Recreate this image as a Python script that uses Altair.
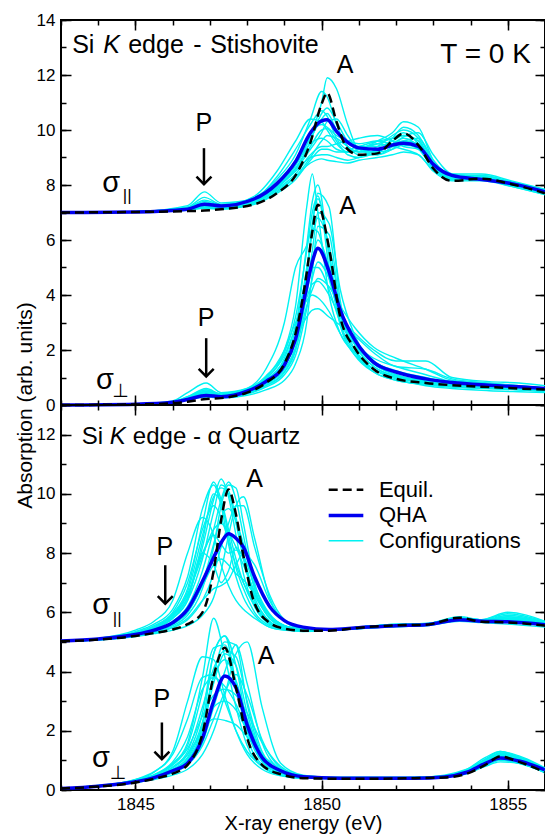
import altair as alt
import pandas as pd

FONT = "Liberation Sans"
CYAN = "#00F2F2"
BLUE = "#0000F0"
XDOM = [1843, 1856]
X_MAJOR = [1845, 1850, 1855]
X_MINOR = list(range(1843, 1857))

# ---------------- Stishovite, sigma parallel ----------------
st_par_E = [1843, 1845, 1846.4, 1846.85, 1847.3, 1848.2, 1848.8, 1849.3, 1849.7, 1850, 1850.15,
            1850.4, 1850.7, 1851, 1851.5, 1851.9, 1852.2, 1852.6, 1853, 1853.5, 1854.3, 1855.1, 1856]
st_par_equil = [7.0, 7.02, 7.05, 7.07, 7.12, 7.3, 7.7, 8.35, 9.55, 10.95, 11.35, 10.3, 9.3, 9.1,
                9.15, 9.6, 9.88, 9.45, 8.6, 8.15, 8.23, 8.03, 7.7]
st_par_qha = [7.0, 7.02, 7.12, 7.3, 7.24, 7.5, 8.05, 8.85, 9.9, 10.33, 10.37, 9.95, 9.55, 9.35,
              9.3, 9.45, 9.52, 9.4, 8.75, 8.35, 8.2, 8.05, 7.75]
st_par_cfg = [
    [7.0, 7.03, 7.25, 7.75, 7.35, 7.5, 8.0, 8.7, 9.8, 11.0, 11.9, 11.5, 10.2, 9.3, 9.2, 9.7, 10.1, 9.8, 8.8, 8.3, 8.35, 8.1, 7.8],
    [7.0, 7.03, 7.2, 7.55, 7.3, 7.55, 8.2, 9.1, 10.4, 11.4, 11.2, 10.2, 9.4, 9.2, 9.4, 9.8, 10.0, 9.7, 8.7, 8.25, 8.3, 8.05, 7.75],
    [7.0, 7.02, 7.15, 7.35, 7.25, 7.6, 8.5, 9.6, 10.4, 10.3, 10.0, 9.5, 9.2, 9.3, 9.6, 9.9, 10.3, 10.1, 8.9, 8.4, 8.4, 8.15, 7.85],
    [7.0, 7.02, 7.12, 7.3, 7.2, 7.45, 8.1, 8.9, 9.9, 10.2, 10.1, 9.8, 9.6, 9.5, 9.6, 9.5, 9.6, 9.5, 8.8, 8.35, 8.25, 8.05, 7.75],
    [7.0, 7.02, 7.1, 7.2, 7.15, 7.4, 7.9, 8.5, 9.0, 9.1, 9.1, 9.0, 8.9, 9.0, 9.3, 9.4, 9.5, 9.3, 8.6, 8.2, 8.2, 8.0, 7.7],
    [7.0, 7.02, 7.08, 7.15, 7.12, 7.35, 7.8, 8.3, 8.8, 8.95, 8.9, 8.85, 8.8, 8.9, 9.0, 9.1, 9.2, 9.1, 8.5, 8.15, 8.15, 7.95, 7.65],
    [7.0, 7.03, 7.15, 7.4, 7.25, 7.45, 7.9, 8.6, 9.6, 10.6, 10.8, 10.3, 9.6, 9.4, 9.4, 9.6, 9.8, 9.6, 8.7, 8.3, 8.3, 8.05, 7.75],
    [7.0, 7.02, 7.1, 7.25, 7.18, 7.4, 8.0, 8.75, 9.5, 9.7, 9.6, 9.3, 9.2, 9.3, 9.5, 9.7, 9.8, 9.6, 8.7, 8.25, 8.25, 8.0, 7.7],
    [7.0, 7.02, 7.1, 7.2, 7.15, 7.35, 7.85, 8.4, 9.1, 9.4, 9.4, 9.5, 9.6, 9.7, 9.8, 9.6, 9.4, 9.3, 8.6, 8.3, 8.3, 8.1, 7.8],
    [7.0, 7.02, 7.12, 7.3, 7.2, 7.4, 7.95, 8.6, 9.4, 10.0, 10.05, 9.6, 9.1, 9.0, 9.2, 9.5, 9.7, 9.4, 8.6, 8.2, 8.2, 7.95, 7.65],
    [7.0, 7.02, 7.1, 7.22, 7.16, 7.38, 7.9, 8.55, 9.3, 9.9, 10.3, 10.4, 9.8, 9.3, 9.1, 9.3, 9.6, 9.7, 8.9, 8.3, 8.25, 8.05, 7.75],
    [7.0, 7.03, 7.18, 7.45, 7.28, 7.5, 8.3, 9.3, 10.2, 10.7, 10.5, 9.7, 9.3, 9.4, 9.6, 9.7, 9.9, 9.5, 8.75, 8.3, 8.35, 8.1, 7.8],
    [7.0, 7.02, 7.1, 7.2, 7.15, 7.32, 7.75, 8.3, 9.0, 9.6, 9.8, 9.7, 9.4, 9.2, 9.2, 9.3, 9.45, 9.35, 8.65, 8.2, 8.2, 7.98, 7.68],
    [7.0, 7.02, 7.12, 7.28, 7.2, 7.45, 8.05, 8.8, 9.7, 10.4, 10.6, 10.0, 9.4, 9.1, 9.1, 9.4, 9.75, 9.9, 9.1, 8.4, 8.3, 8.1, 7.8],
    [7.0, 7.02, 7.1, 7.18, 7.14, 7.3, 7.7, 8.2, 8.9, 9.3, 9.3, 9.2, 9.2, 9.3, 9.5, 9.4, 9.3, 9.1, 8.55, 8.2, 8.2, 8.0, 7.7],
]

# ---------------- Stishovite, sigma perpendicular ----------------
st_per_E = [1843, 1845, 1846, 1846.4, 1846.9, 1847.3, 1848, 1848.5, 1849, 1849.3, 1849.6, 1849.75,
            1849.9, 1850.2, 1850.5, 1850.9, 1851.4, 1852, 1852.8, 1853.5, 1854.5, 1855.3, 1856]
st_per_equil = [0.0, 0.02, 0.06, 0.12, 0.22, 0.25, 0.45, 0.8, 1.5, 2.6, 4.8, 6.3, 7.28, 5.7, 3.2,
                2.05, 1.3, 0.95, 0.8, 0.72, 0.65, 0.6, 0.56]
st_per_qha = [0.0, 0.03, 0.1, 0.2, 0.35, 0.3, 0.5, 0.85, 1.45, 2.4, 4.3, 5.2, 5.7, 4.85, 3.45,
              2.35, 1.55, 1.2, 0.95, 0.82, 0.72, 0.66, 0.6]
st_per_cfg = [
    [0, 0.03, 0.15, 0.45, 0.8, 0.45, 0.6, 1.05, 2.0, 3.6, 7.2, 8.4, 7.0, 4.0, 2.6, 1.9, 1.3, 1.0, 0.85, 0.75, 0.68, 0.62, 0.56],
    [0, 0.03, 0.12, 0.3, 0.6, 0.4, 0.5, 0.8, 1.4, 2.4, 4.8, 6.5, 7.7, 7.2, 3.8, 2.2, 1.4, 1.05, 0.9, 0.78, 0.7, 0.63, 0.56],
    [0, 0.03, 0.12, 0.3, 0.55, 0.4, 0.6, 1.3, 3.0, 5.0, 5.8, 6.4, 6.3, 4.6, 3.2, 2.3, 1.6, 1.2, 0.95, 0.8, 0.7, 0.64, 0.58],
    [0, 0.03, 0.1, 0.25, 0.4, 0.35, 0.5, 0.9, 1.6, 2.4, 3.2, 3.45, 3.5, 3.2, 2.9, 2.5, 1.9, 1.4, 1.3, 0.95, 0.8, 0.7, 0.62],
    [0, 0.02, 0.1, 0.2, 0.35, 0.3, 0.45, 0.75, 1.3, 2.1, 4.0, 5.2, 6.0, 5.0, 3.3, 2.2, 1.5, 1.1, 0.85, 0.75, 0.66, 0.6, 0.54],
    [0, 0.02, 0.1, 0.25, 0.45, 0.35, 0.55, 0.95, 1.8, 2.8, 3.9, 4.4, 4.5, 4.0, 3.2, 2.6, 2.0, 1.6, 1.6, 1.0, 0.85, 0.8, 0.7],
    [0, 0.02, 0.1, 0.22, 0.4, 0.3, 0.45, 0.7, 1.2, 2.0, 4.5, 6.6, 7.5, 5.6, 3.0, 1.9, 1.2, 0.9, 0.75, 0.65, 0.6, 0.55, 0.5],
    [0, 0.02, 0.1, 0.2, 0.3, 0.28, 0.4, 0.65, 1.1, 1.8, 3.5, 4.6, 5.2, 4.6, 3.4, 2.4, 1.6, 1.25, 1.0, 0.8, 0.7, 0.62, 0.56],
    [0, 0.02, 0.08, 0.18, 0.3, 0.25, 0.35, 0.55, 0.9, 1.5, 3.0, 4.8, 6.5, 6.2, 3.5, 2.0, 1.3, 0.95, 0.7, 0.6, 0.52, 0.48, 0.45],
    [0, 0.02, 0.1, 0.25, 0.5, 0.35, 0.55, 1.0, 2.0, 3.0, 3.8, 4.0, 3.9, 3.4, 2.6, 1.8, 1.3, 1.0, 0.8, 0.7, 0.62, 0.56, 0.5],
    [0, 0.02, 0.1, 0.25, 0.55, 0.35, 0.5, 0.85, 1.6, 2.8, 5.8, 7.4, 8.0, 5.4, 3.0, 2.0, 1.3, 1.0, 0.8, 0.7, 0.62, 0.57, 0.52],
    [0, 0.02, 0.1, 0.22, 0.4, 0.32, 0.5, 0.85, 1.5, 2.5, 5.0, 6.2, 6.8, 5.8, 3.6, 2.2, 1.4, 1.05, 0.85, 0.72, 0.64, 0.58, 0.52],
    [0, 0.02, 0.1, 0.22, 0.38, 0.3, 0.48, 0.8, 1.4, 2.3, 4.2, 5.6, 7.0, 6.6, 4.2, 2.5, 1.5, 1.1, 0.85, 0.72, 0.64, 0.58, 0.52],
    [0, 0.02, 0.1, 0.24, 0.45, 0.33, 0.52, 0.9, 1.7, 2.9, 4.6, 5.0, 5.0, 4.2, 3.0, 2.2, 1.7, 1.4, 1.1, 0.85, 0.72, 0.65, 0.58],
    [0, 0.02, 0.1, 0.25, 0.5, 0.36, 0.55, 0.95, 1.9, 3.2, 5.6, 7.0, 7.6, 5.0, 2.9, 1.8, 1.2, 0.9, 0.75, 0.66, 0.6, 0.55, 0.5],
    [0, 0.02, 0.1, 0.2, 0.32, 0.28, 0.42, 0.7, 1.2, 2.0, 3.6, 4.2, 4.6, 4.3, 3.6, 2.8, 2.1, 1.7, 1.3, 0.9, 0.78, 0.7, 0.62],
]

# ---------------- alpha Quartz, sigma parallel ----------------
qz_par_E = [1843, 1844, 1845, 1845.5, 1846, 1846.4, 1846.8, 1847.1, 1847.3, 1847.5, 1847.7, 1847.9,
            1848.2, 1848.6, 1849, 1849.5, 1850.2, 1851, 1852, 1852.8, 1853.7, 1854.3, 1855, 1856]
qz_par_equil = [5.02, 5.08, 5.2, 5.3, 5.42, 5.6, 6.0, 7.4, 9.1, 10.15, 9.3, 7.9, 6.3, 5.65, 5.45,
                5.38, 5.38, 5.48, 5.56, 5.58, 5.82, 5.68, 5.66, 5.55]
qz_par_qha = [5.03, 5.1, 5.25, 5.4, 5.65, 6.1, 7.05, 7.85, 8.35, 8.65, 8.5, 8.2, 7.2, 6.2, 5.72,
              5.5, 5.42, 5.48, 5.55, 5.58, 5.75, 5.7, 5.68, 5.58]
qz_par_cfg = [
    [5.02, 5.1, 5.3, 5.5, 5.9, 6.5, 8.2, 9.8, 10.5, 9.9, 8.6, 7.3, 6.2, 5.6, 5.45, 5.4, 5.4, 5.5, 5.6, 5.62, 5.8, 5.75, 5.8, 5.6],
    [5.02, 5.12, 5.35, 5.6, 6.1, 7.2, 9.5, 10.3, 9.6, 8.3, 7.2, 6.5, 5.9, 5.5, 5.4, 5.38, 5.42, 5.5, 5.58, 5.6, 5.75, 5.72, 5.7, 5.6],
    [5.02, 5.06, 5.18, 5.28, 5.4, 5.55, 5.9, 6.5, 7.4, 8.6, 9.6, 9.9, 8.5, 6.5, 5.7, 5.45, 5.4, 5.45, 5.55, 5.6, 5.85, 5.75, 6.0, 5.7],
    [5.02, 5.1, 5.25, 5.45, 5.8, 6.5, 8.0, 7.6, 7.0, 7.4, 8.2, 7.8, 6.6, 5.9, 5.55, 5.45, 5.4, 5.45, 5.52, 5.55, 5.7, 5.65, 5.6, 5.5],
    [5.02, 5.12, 5.4, 5.7, 6.4, 8.0, 9.2, 8.6, 7.6, 6.9, 6.4, 6.1, 5.8, 5.5, 5.4, 5.35, 5.4, 5.5, 5.6, 5.62, 5.78, 5.7, 5.75, 5.62],
    [5.02, 5.08, 5.22, 5.35, 5.55, 5.9, 6.8, 8.2, 9.6, 10.3, 10.2, 9.0, 7.0, 5.9, 5.5, 5.4, 5.4, 5.48, 5.56, 5.6, 5.82, 5.7, 5.85, 5.65],
    [5.02, 5.1, 5.3, 5.5, 5.9, 6.6, 7.9, 8.8, 9.0, 8.7, 8.2, 7.6, 6.7, 5.9, 5.55, 5.42, 5.4, 5.5, 5.58, 5.6, 5.78, 5.72, 5.75, 5.6],
    [5.02, 5.1, 5.28, 5.45, 5.8, 6.4, 8.4, 10.0, 9.7, 8.6, 7.5, 6.8, 6.0, 5.55, 5.42, 5.38, 5.4, 5.48, 5.55, 5.58, 5.8, 5.7, 5.7, 5.58],
    [5.02, 5.07, 5.2, 5.32, 5.5, 5.8, 6.4, 6.8, 6.9, 7.1, 7.6, 8.0, 7.6, 6.4, 5.7, 5.45, 5.4, 5.45, 5.52, 5.55, 5.72, 5.68, 5.8, 5.62],
    [5.02, 5.08, 5.22, 5.35, 5.6, 6.0, 7.0, 8.3, 9.2, 9.5, 9.1, 8.3, 6.8, 5.8, 5.5, 5.4, 5.4, 5.48, 5.56, 5.6, 5.8, 5.72, 5.9, 5.66],
    [5.02, 5.1, 5.3, 5.5, 5.95, 6.8, 9.0, 10.4, 9.8, 8.8, 7.8, 7.0, 6.2, 5.6, 5.45, 5.4, 5.4, 5.5, 5.58, 5.6, 5.78, 5.7, 5.72, 5.6],
    [5.02, 5.07, 5.2, 5.3, 5.48, 5.75, 6.4, 7.3, 8.2, 9.0, 9.6, 9.6, 8.2, 6.6, 5.75, 5.45, 5.4, 5.46, 5.55, 5.6, 5.8, 5.75, 5.95, 5.68],
    [5.02, 5.1, 5.3, 5.5, 5.9, 6.7, 8.6, 9.9, 10.2, 10.0, 9.0, 7.8, 6.5, 5.7, 5.45, 5.4, 5.4, 5.5, 5.58, 5.6, 5.8, 5.72, 5.78, 5.62],
    [5.02, 5.08, 5.25, 5.4, 5.7, 6.2, 7.4, 8.8, 9.8, 10.4, 9.8, 8.6, 6.8, 5.8, 5.5, 5.4, 5.4, 5.48, 5.56, 5.6, 5.8, 5.72, 5.85, 5.65],
    [5.02, 5.1, 5.28, 5.45, 5.85, 6.6, 8.0, 8.6, 8.3, 8.0, 8.1, 7.9, 6.9, 5.95, 5.55, 5.42, 5.4, 5.48, 5.55, 5.58, 5.76, 5.7, 5.7, 5.58],
    [5.02, 5.09, 5.27, 5.45, 5.8, 6.4, 7.8, 9.4, 10.3, 10.1, 9.2, 8.0, 6.4, 5.65, 5.45, 5.4, 5.4, 5.5, 5.58, 5.6, 5.8, 5.72, 5.75, 5.6],
    [5.02, 5.07, 5.22, 5.35, 5.6, 6.0, 6.9, 7.6, 7.8, 7.6, 7.3, 7.1, 6.6, 5.9, 5.55, 5.42, 5.4, 5.46, 5.54, 5.58, 5.75, 5.7, 5.8, 5.6],
    [5.02, 5.1, 5.32, 5.55, 6.0, 7.0, 8.8, 9.6, 9.2, 8.4, 7.6, 7.0, 6.3, 5.7, 5.45, 5.4, 5.42, 5.5, 5.58, 5.6, 5.76, 5.7, 5.68, 5.58],
]

# ---------------- alpha Quartz, sigma perpendicular ----------------
qz_per_E = [1843, 1844, 1845, 1845.5, 1846, 1846.4, 1846.8, 1847.1, 1847.4, 1847.7, 1848, 1848.4,
            1848.9, 1849.5, 1850.5, 1851.5, 1852.5, 1853.3, 1853.9, 1854.4, 1854.8, 1855.3, 1856]
qz_per_equil = [0.05, 0.12, 0.25, 0.38, 0.55, 0.85, 1.9, 3.85, 4.8, 3.45, 1.75, 0.85, 0.53, 0.4,
                0.38, 0.38, 0.4, 0.42, 0.55, 0.85, 1.13, 0.95, 0.6]
qz_per_qha = [0.05, 0.13, 0.28, 0.42, 0.65, 0.9, 1.75, 3.0, 3.85, 3.45, 2.2, 1.1, 0.65, 0.45,
              0.4, 0.4, 0.4, 0.44, 0.6, 0.9, 1.08, 0.98, 0.68]
qz_per_cfg = [
    [0.05, 0.14, 0.32, 0.5, 0.9, 1.6, 3.8, 5.8, 4.5, 2.8, 1.5, 0.8, 0.5, 0.4, 0.4, 0.4, 0.42, 0.5, 0.7, 1.0, 1.2, 1.0, 0.62],
    [0.05, 0.13, 0.3, 0.45, 0.75, 1.2, 2.6, 4.6, 5.2, 4.2, 2.2, 1.0, 0.58, 0.42, 0.4, 0.4, 0.4, 0.45, 0.62, 0.95, 1.15, 1.0, 0.65],
    [0.05, 0.12, 0.25, 0.35, 0.5, 0.7, 1.2, 2.0, 3.2, 4.6, 5.0, 2.8, 0.9, 0.5, 0.4, 0.38, 0.38, 0.45, 0.7, 1.1, 1.3, 1.1, 0.7],
    [0.05, 0.15, 0.35, 0.6, 1.3, 3.0, 4.5, 4.4, 3.2, 2.0, 1.2, 0.7, 0.48, 0.4, 0.42, 0.42, 0.42, 0.45, 0.58, 0.85, 1.05, 0.92, 0.6],
    [0.05, 0.13, 0.3, 0.45, 0.75, 1.2, 2.0, 2.4, 2.35, 2.2, 1.8, 1.2, 0.7, 0.45, 0.4, 0.4, 0.4, 0.44, 0.55, 0.8, 0.95, 0.9, 0.58],
    [0.05, 0.13, 0.28, 0.42, 0.7, 1.1, 2.3, 3.8, 4.4, 3.7, 2.4, 1.2, 0.65, 0.45, 0.4, 0.4, 0.4, 0.45, 0.65, 1.0, 1.2, 1.05, 0.68],
    [0.05, 0.13, 0.3, 0.48, 0.85, 1.4, 2.5, 3.2, 3.4, 3.2, 2.6, 1.6, 0.8, 0.48, 0.42, 0.42, 0.42, 0.46, 0.6, 0.9, 1.1, 0.98, 0.64],
    [0.05, 0.12, 0.27, 0.4, 0.65, 1.0, 2.2, 4.6, 5.2, 3.6, 1.8, 0.85, 0.5, 0.4, 0.38, 0.38, 0.4, 0.44, 0.6, 0.95, 1.25, 1.1, 0.72],
    [0.05, 0.12, 0.26, 0.38, 0.6, 0.9, 1.6, 2.8, 4.0, 4.9, 3.6, 1.6, 0.7, 0.45, 0.4, 0.4, 0.4, 0.46, 0.68, 1.05, 1.3, 1.15, 0.75],
    [0.05, 0.12, 0.26, 0.4, 0.62, 0.95, 1.8, 2.8, 3.0, 2.7, 2.0, 1.1, 0.6, 0.42, 0.4, 0.4, 0.4, 0.44, 0.56, 0.82, 1.0, 0.92, 0.6],
    [0.05, 0.13, 0.28, 0.42, 0.68, 1.05, 2.2, 3.9, 5.0, 4.9, 2.9, 1.2, 0.6, 0.42, 0.4, 0.4, 0.4, 0.45, 0.64, 1.0, 1.22, 1.08, 0.7],
    [0.05, 0.15, 0.36, 0.62, 1.2, 2.4, 3.8, 3.9, 3.0, 2.0, 1.3, 0.8, 0.5, 0.4, 0.42, 0.42, 0.42, 0.46, 0.58, 0.85, 1.02, 0.9, 0.6],
    [0.05, 0.14, 0.32, 0.5, 0.85, 1.5, 3.3, 4.8, 4.9, 3.6, 2.0, 0.95, 0.55, 0.42, 0.4, 0.4, 0.42, 0.48, 0.68, 1.0, 1.2, 1.05, 0.66],
    [0.05, 0.13, 0.3, 0.46, 0.78, 1.3, 2.8, 4.1, 4.7, 4.5, 3.0, 1.3, 0.62, 0.44, 0.4, 0.4, 0.4, 0.45, 0.62, 0.95, 1.15, 1.02, 0.66],
    [0.05, 0.14, 0.33, 0.52, 0.95, 1.8, 3.4, 3.8, 3.5, 2.9, 2.0, 1.1, 0.6, 0.43, 0.41, 0.41, 0.41, 0.45, 0.6, 0.88, 1.08, 0.95, 0.62],
    [0.05, 0.12, 0.27, 0.4, 0.64, 1.0, 2.0, 3.6, 4.6, 4.2, 2.6, 1.15, 0.58, 0.42, 0.4, 0.4, 0.4, 0.45, 0.63, 0.98, 1.18, 1.05, 0.68],
    [0.05, 0.12, 0.26, 0.38, 0.58, 0.85, 1.5, 2.4, 3.3, 3.9, 3.2, 1.7, 0.75, 0.46, 0.4, 0.4, 0.4, 0.46, 0.66, 1.02, 1.25, 1.12, 0.72],
]

# ---------------- annotations (data coordinates) ----------------
top_labels = pd.DataFrame({
    "E": [1846.84, 1850.63, 1850.7, 1846.9, 1844.35, 1844.18],
    "v": [10.25, 12.37, 7.22, 3.16, 8.07, 0.92],
    "text": ["P", "A", "A", "P", "σ", "σ"],
    "size": [25, 25, 25, 25, 29, 29],
})
top_sub_par = pd.DataFrame({"E": [1844.78], "v": [7.6], "text": ["||"]})
top_sub_perp = pd.DataFrame({"E": [1844.6], "v": [0.5], "text": ["⊥"]})
top_arrows = pd.DataFrame({"E": [1846.84, 1846.9], "v": [9.34, 2.43], "v2": [8.03, 1.04]})
top_title = pd.DataFrame({"E": [1843.30], "v": [12.79]})
# title pieces: (text, italic, dx in px from the title anchor)
top_title_parts = [("Si", False, 0), ("K", True, 31), ("edge", False, 56), ("-", False, 121),
                   ("Stishovite", False, 138)]
top_temp = pd.DataFrame({"E": [1855.62], "v": [12.43], "text": ["T = 0 K"]})

bot_labels = pd.DataFrame({
    "E": [1845.79, 1848.2, 1845.71, 1848.51, 1844.08, 1844.07],
    "v": [8.21, 10.5, 3.06, 4.52, 6.23, 1.07],
    "text": ["P", "A", "P", "A", "σ", "σ"],
    "size": [25, 25, 25, 25, 29, 29],
})
bot_sub_par = pd.DataFrame({"E": [1844.51], "v": [5.78], "text": ["||"]})
bot_sub_perp = pd.DataFrame({"E": [1844.53], "v": [0.57], "text": ["⊥"]})
bot_arrows = pd.DataFrame({"E": [1845.8, 1845.71], "v": [7.59, 2.28], "v2": [6.29, 1.04]})
bot_title = pd.DataFrame({"E": [1843.56], "v": [11.69]})
bot_title_parts = [("Si", False, 0), ("K", True, 28), ("edge - α Quartz", False, 51)]

legend_labels = ["Equil.", "QHA", "Configurations"]
legend_y = [10.14, 9.27, 8.42]
legend_x0, legend_x1, legend_xt = 1850.19, 1851.12, 1851.54


def long_df(grid, curves, prefix):
    rows = []
    for i, c in enumerate(curves):
        for e, v in zip(grid, c):
            rows.append({"E": e, "v": v, "curve": f"{prefix}{i}"})
    return pd.DataFrame(rows)


def panel(specs, ydom, ymaj, ymin, labels_df, sub_par, sub_perp, arrows, title_df, title_parts,
          title_size, bottom_panel, extra_layers):
    xs = alt.Scale(domain=XDOM, nice=False, zero=False)
    ys = alt.Scale(domain=ydom, nice=False, zero=False)
    nx = alt.X("E:Q", scale=xs, axis=None)
    ny = alt.Y("v:Q", scale=ys, axis=None)

    cfg_df = pd.concat([long_df(g, c, p) for (g, c, p, _, _) in specs])
    qha_df = pd.concat([long_df(g, [q], p + "q") for (g, _, p, q, _) in specs])
    eq_df = pd.concat([long_df(g, [e], p + "e") for (g, _, p, _, e) in specs])

    if bottom_panel:
        xax = alt.Axis(orient="bottom", values=X_MAJOR, format="d", ticks=False, tickSize=0,
                       domain=False, grid=False, labelFontSize=17, labelPadding=6,
                       title="X-ray energy (eV)", titleFontSize=20, titlePadding=1)
        yax = alt.Axis(orient="left", values=ymaj, ticks=False, tickSize=0, domain=False,
                       grid=False, labelFontSize=17, labelPadding=6, title=None)
    else:
        xax = alt.Axis(orient="bottom", values=X_MAJOR, ticks=False, tickSize=0, labels=False,
                       domain=False, grid=False, title=None)
        yax = alt.Axis(orient="left", values=ymaj, ticks=False, tickSize=0, domain=False,
                       grid=False, labelFontSize=17, labelPadding=6,
                       title="Absorption (arb. units)", titleFontSize=21, titleX=-36,
                       titleY=385, titleAngle=270, titleAlign="center", titleBaseline="middle")

    layers = [
        alt.Chart(cfg_df).mark_line(color=CYAN, strokeWidth=1.4, interpolate="monotone").encode(
            x=alt.X("E:Q", scale=xs, axis=xax), y=alt.Y("v:Q", scale=ys, axis=yax),
            detail="curve:N"),
        alt.Chart(qha_df).mark_line(color=BLUE, strokeWidth=3.5, interpolate="monotone").encode(
            x=nx, y=ny, detail="curve:N"),
        alt.Chart(eq_df).mark_line(color="black", strokeWidth=2.5, strokeDash=[9, 5],
                                   interpolate="monotone").encode(x=nx, y=ny, detail="curve:N"),
    ]

    # inward ticks on all four sides
    dummy = pd.DataFrame({"E": [1850], "v": [1]})
    for xv, yv, size in [(X_MAJOR, ymaj, 10), (X_MINOR, ymin, 5)]:
        for xo, yo in [("bottom", "left"), ("top", "right")]:
            layers.append(alt.Chart(dummy).mark_point(opacity=0).encode(
                x=alt.X("E:Q", scale=xs, axis=alt.Axis(
                    orient=xo, values=xv, tickSize=size, offset=-size, labels=False,
                    domain=False, grid=False, title=None, tickColor="black", tickWidth=1.5,
                    zindex=1)),
                y=alt.Y("v:Q", scale=ys, axis=alt.Axis(
                    orient=yo, values=yv, tickSize=size, offset=-size, labels=False,
                    domain=False, grid=False, title=None, tickColor="black", tickWidth=1.5,
                    zindex=1)),
            ))

    layers += [
        alt.Chart(labels_df).mark_text(font=FONT, align="center", baseline="middle",
                                       color="black").encode(
            x=nx, y=ny, text="text:N", size=alt.Size("size:Q", scale=None, legend=None)),
        alt.Chart(sub_par).mark_text(font=FONT, fontSize=17, align="center",
                                     baseline="middle", color="black").encode(
            x=nx, y=ny, text="text:N"),
        alt.Chart(sub_perp).mark_text(font="DejaVu Sans", fontSize=19, align="center",
                                      baseline="middle", color="black").encode(
            x=nx, y=ny, text="text:N"),
        alt.Chart(arrows).mark_rule(color="black", strokeWidth=2.5).encode(
            x=nx, y=ny, y2="v2:Q"),
        alt.Chart(arrows).mark_point(shape="M -1 -1 L 0 0 L 1 -1", size=225, filled=False,
                                     color="black", strokeWidth=2.5, opacity=1).encode(
            x=nx, y=alt.Y("v2:Q", scale=ys, axis=None)),
    ]
    for txt, italic, dx in title_parts:
        kw = {"fontStyle": "italic"} if italic else {}
        layers.append(alt.Chart(title_df).mark_text(
            font=FONT, fontSize=title_size, align="left", baseline="alphabetic",
            color="black", text=txt, dx=dx, **kw).encode(x=nx, y=ny))
    for f in extra_layers:
        layers.append(f(nx, ny, xs, ys))

    return alt.layer(*layers).resolve_axis(x="independent", y="independent").properties(
        width=484, height=385)


def temp_layer(nx, ny, xs, ys):
    return alt.Chart(top_temp).mark_text(font=FONT, fontSize=28, align="right",
                                         baseline="alphabetic", color="black").encode(
        x=nx, y=ny, text="text:N")


def legend_layers(nx, ny, xs, ys):
    ldf = pd.DataFrame({"E": [legend_x0] * 3, "E2": [legend_x1] * 3, "v": legend_y,
                        "label": legend_labels, "Et": [legend_xt] * 3})
    eq = alt.Chart(ldf.iloc[[0]]).mark_rule(color="black", strokeWidth=2.5,
                                            strokeDash=[9, 5]).encode(x=nx, x2="E2:Q", y=ny)
    qh = alt.Chart(ldf.iloc[[1]]).mark_rule(color=BLUE, strokeWidth=3.5).encode(
        x=nx, x2="E2:Q", y=ny)
    cf = alt.Chart(ldf.iloc[[2]]).mark_rule(color=CYAN, strokeWidth=1.5).encode(
        x=nx, x2="E2:Q", y=ny)
    tx = alt.Chart(ldf).mark_text(font=FONT, fontSize=22, align="left", baseline="middle",
                                  color="black").encode(
        x=alt.X("Et:Q", scale=xs, axis=None), y=ny, text="label:N")
    return alt.layer(eq, qh, cf, tx)


top = panel(
    [(st_par_E, st_par_cfg, "sp", st_par_qha, st_par_equil),
     (st_per_E, st_per_cfg, "st", st_per_qha, st_per_equil)],
    [0, 14], list(range(0, 15, 2)), list(range(0, 15)),
    top_labels, top_sub_par, top_sub_perp, top_arrows, top_title, top_title_parts, 25,
    False, [temp_layer])

bottom = panel(
    [(qz_par_E, qz_par_cfg, "qp", qz_par_qha, qz_par_equil),
     (qz_per_E, qz_per_cfg, "qt", qz_per_qha, qz_per_equil)],
    [0, 13], list(range(0, 14, 2)), list(range(0, 14)),
    bot_labels, bot_sub_par, bot_sub_perp, bot_arrows, bot_title, bot_title_parts, 24,
    True, [legend_layers])

chart = alt.vconcat(top, bottom, spacing=0, bounds="flush").properties(
    padding={"left": 13, "top": 10, "right": -8, "bottom": 2}
).configure_view(stroke="black", strokeWidth=2).configure_axis(
    labelFont=FONT, titleFont=FONT, labelColor="black", titleColor="black",
    titleFontWeight="normal")

chart.save("out.html", embed_options={"renderer": "svg", "actions": False})
